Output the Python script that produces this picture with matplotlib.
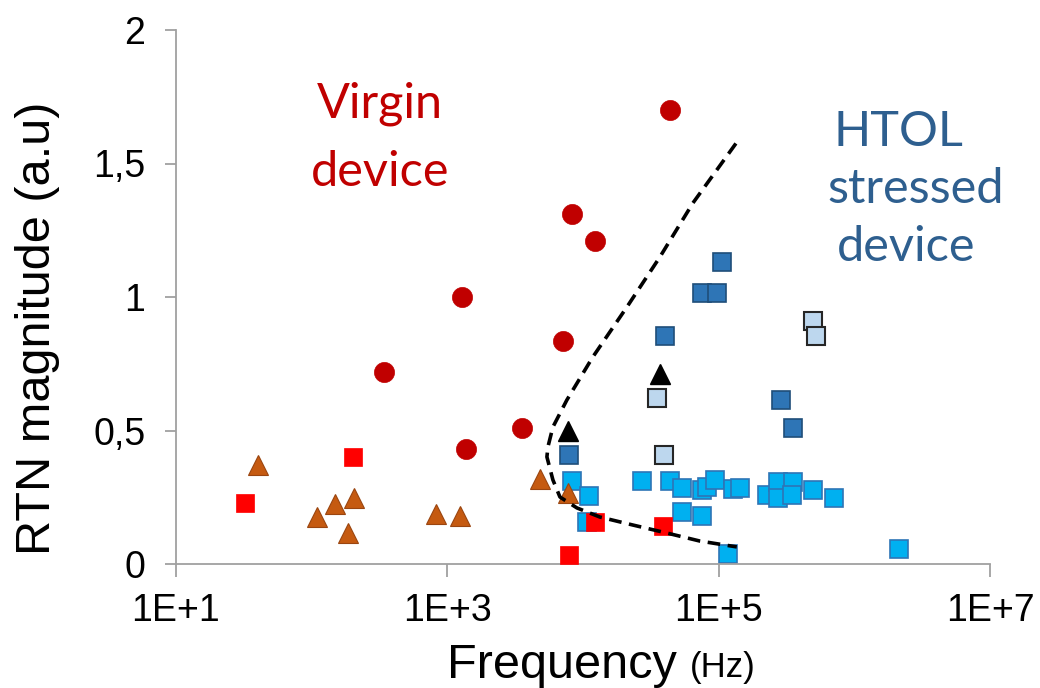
import matplotlib
matplotlib.use("Agg")
import matplotlib.pyplot as plt
from matplotlib.ticker import FixedLocator, FixedFormatter

# ---- data (frequency in Hz, RTN magnitude a.u.) ----
virgin_circle_f = [4.4e4, 8.3e3, 1.23e4, 1.29e3, 7.08e3, 339, 3.55e3, 1.38e3]
virgin_circle_y = [1.70, 1.31, 1.21, 1.00, 0.835, 0.72, 0.51, 0.43]

virgin_square_f = [32, 200, 7.9e3, 1.23e4, 3.9e4]
virgin_square_y = [0.23, 0.40, 0.034, 0.157, 0.142]

virgin_tri_f = [40, 110, 148, 204, 186, 832, 1230, 4790, 7760]
virgin_tri_y = [0.37, 0.176, 0.225, 0.247, 0.116, 0.187, 0.18, 0.32, 0.266]

black_tri_f = [7760, 3.7e4]
black_tri_y = [0.50, 0.71]

light_sq_f = [3.5e4, 3.95e4, 4.94e5, 5.2e5]
light_sq_y = [0.62, 0.41, 0.91, 0.855]

dark_sq_f = [7940, 4.0e4, 1.05e5, 7.52e4, 9.7e4, 2.87e5, 3.52e5]
dark_sq_y = [0.41, 0.855, 1.13, 1.015, 1.015, 0.615, 0.51]

mid_sq_f = [8280, 1.1e4, 1.07e4, 2.72e4, 4.36e4, 5.35e4, 7.52e4, 8.18e4, 9.37e4,
            1.27e5, 1.43e5, 5.35e4, 7.52e4, 1.17e5, 2.26e5, 2.73e5, 2.73e5,
            3.52e5, 3.46e5, 4.94e5, 7.06e5, 2.13e6]
mid_sq_y = [0.311, 0.255, 0.157, 0.311, 0.311, 0.285, 0.277, 0.288, 0.315,
            0.281, 0.285, 0.195, 0.18, 0.037, 0.258, 0.307, 0.247,
            0.307, 0.258, 0.277, 0.247, 0.056]

boundary_f = [1.34e5, 6.46e4, 3.69e4, 2.11e4, 1.18e4, 7.60e3, 6.00e3,
              5.51e3, 5.42e3, 6.00e3, 6.76e3, 9.02e3, 1.33e4, 2.33e4, 4.15e4,
              7.26e4, 1.36e5]
boundary_y = [1.575, 1.352, 1.150, 0.963, 0.775, 0.614, 0.513, 0.438,
              0.401, 0.315, 0.251, 0.210, 0.176, 0.146, 0.116, 0.086, 0.064]

x_ticks = [1e1, 1e3, 1e5, 1e7]
x_tick_labels = ["1E+1", "1E+3", "1E+5", "1E+7"]
y_ticks = [0, 0.5, 1, 1.5, 2]
y_tick_labels = ["0", "0,5", "1", "1,5", "2"]

# ---- figure ----
W, H = 1040, 688
fig = plt.figure(figsize=(W / 100, H / 100), dpi=100)
ax = fig.add_axes([176 / W, 1 - 564 / H, (990 - 176) / W, (564 - 30) / H])
ax.set_xscale("log")
ax.set_xlim(1e1, 1e7)
ax.set_ylim(0, 2)

ax.plot(mid_sq_f, mid_sq_y, ls="none", marker="s", ms=13, mfc="#00B0F0",
        mec="#2E75B6", mew=1.2, zorder=2)
ax.plot(dark_sq_f, dark_sq_y, ls="none", marker="s", ms=13, mfc="#2E75B6",
        mec="#1F4E79", mew=1.2, zorder=2)
ax.plot(light_sq_f, light_sq_y, ls="none", marker="s", ms=13, mfc="#BDD7EE",
        mec="#262626", mew=1.5, zorder=2)
ax.plot(virgin_tri_f, virgin_tri_y, ls="none", marker="^", ms=14.5, mfc="#C55A11",
        mec="#9A4510", mew=0.8, zorder=3)
ax.plot(black_tri_f, black_tri_y, ls="none", marker="^", ms=14.5, mfc="black",
        mec="black", zorder=3)
ax.plot(virgin_square_f, virgin_square_y, ls="none", marker="s", ms=13.5,
        mfc="#FF0000", mec="#FF0000", mew=0.5, zorder=3)
ax.plot(virgin_circle_f, virgin_circle_y, ls="none", marker="o", ms=14.5,
        mfc="#C00000", mec="#C00000", mew=0.5, zorder=3)
ax.plot(boundary_f, boundary_y, color="black", lw=2.6, ls=(0, (3.5, 2.1)),
        zorder=4)

# axes styling
for s in ("top", "right"):
    ax.spines[s].set_visible(False)
for s in ("left", "bottom"):
    ax.spines[s].set_color("#A0A0A0")
    ax.spines[s].set_linewidth(1.3)
ax.xaxis.set_major_locator(FixedLocator(x_ticks))
ax.xaxis.set_major_formatter(FixedFormatter(x_tick_labels))
ax.xaxis.set_minor_locator(FixedLocator([]))
ax.yaxis.set_major_locator(FixedLocator(y_ticks))
ax.yaxis.set_major_formatter(FixedFormatter(y_tick_labels))
ax.tick_params(axis="both", direction="out", color="#A0A0A0", width=1.3,
               labelsize=27)
ax.tick_params(axis="x", length=9, pad=12)
ax.tick_params(axis="y", length=8, pad=14)
for lab in ax.get_xticklabels() + ax.get_yticklabels():
    lab.set_fontfamily("Liberation Sans")

fig.text(38 / W, 1 - 328 / H, "RTN magnitude (a.u)", fontsize=35,
         family="Liberation Sans", rotation=90, ha="center", va="center")
fig.text(447 / W, 1 - 678 / H, "Frequency", fontsize=35, family="Liberation Sans",
         ha="left", va="baseline")
fig.text(690 / W, 1 - 677 / H, "(Hz)", fontsize=25, family="Liberation Sans",
         ha="left", va="baseline")

# annotations
fig.text(380 / W, 1 - 118 / H, "Virgin", fontsize=35, family="Lato",
         color="#C00000", ha="center", va="baseline")
fig.text(380 / W, 1 - 186 / H, "device", fontsize=35, family="Lato",
         color="#C00000", ha="center", va="baseline")
fig.text(898 / W, 1 - 146 / H, "HTOL", fontsize=35, family="Lato",
         color="#2E5F8F", ha="center", va="baseline")
fig.text(916 / W, 1 - 203 / H, "stressed", fontsize=35, family="Lato",
         color="#2E5F8F", ha="center", va="baseline")
fig.text(906 / W, 1 - 261 / H, "device", fontsize=35, family="Lato",
         color="#2E5F8F", ha="center", va="baseline")

fig.savefig("out.png", dpi=100)
